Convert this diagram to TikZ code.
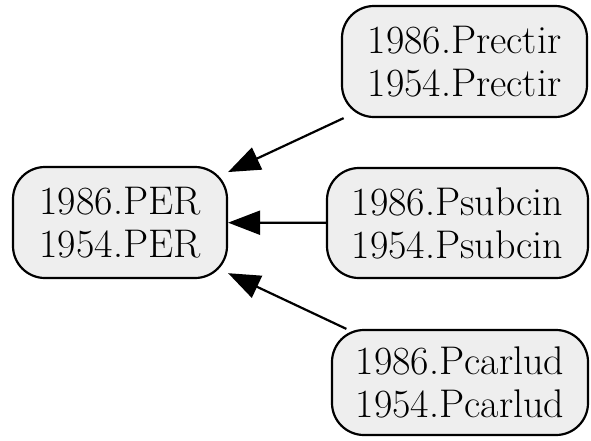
\documentclass[tikz,border=0pt]{standalone}
\usetikzlibrary{arrows.meta}
\definecolor{boxfill}{HTML}{EEEEEE}
\begin{document}
\begin{tikzpicture}[x=1pt,y=-1pt,
  box/.style={draw=black, line width=2.2pt, fill=boxfill, rounded corners=32pt,
    align=center, inner sep=0pt, font=\rmfamily\fontsize{40}{43}\selectfont},
  link/.style={line width=2.2pt, -{Triangle[length=32pt,width=24pt]}}]
\useasboundingbox (0,0) rectangle (591,440);
\node[box, minimum width=214pt, minimum height=111pt] (per) at (120,222.5) {1986.PER\\1954.PER};
\node[box, minimum width=245pt, minimum height=111pt] (prec) at (464.5,61.5) {1986.Prectir\\1954.Prectir};
\node[box, minimum width=261pt, minimum height=110pt] (psub) at (457.5,223) {1986.Psubcin\\1954.Psubcin};
\node[box, minimum width=256pt, minimum height=105pt] (pcar) at (460,382.5) {1986.Pcarlud\\1954.Pcarlud};
\draw[link] (prec) -- (per);
\draw[link] (psub) -- (per);
\draw[link] (pcar) -- (per);
\end{tikzpicture}
\end{document}
